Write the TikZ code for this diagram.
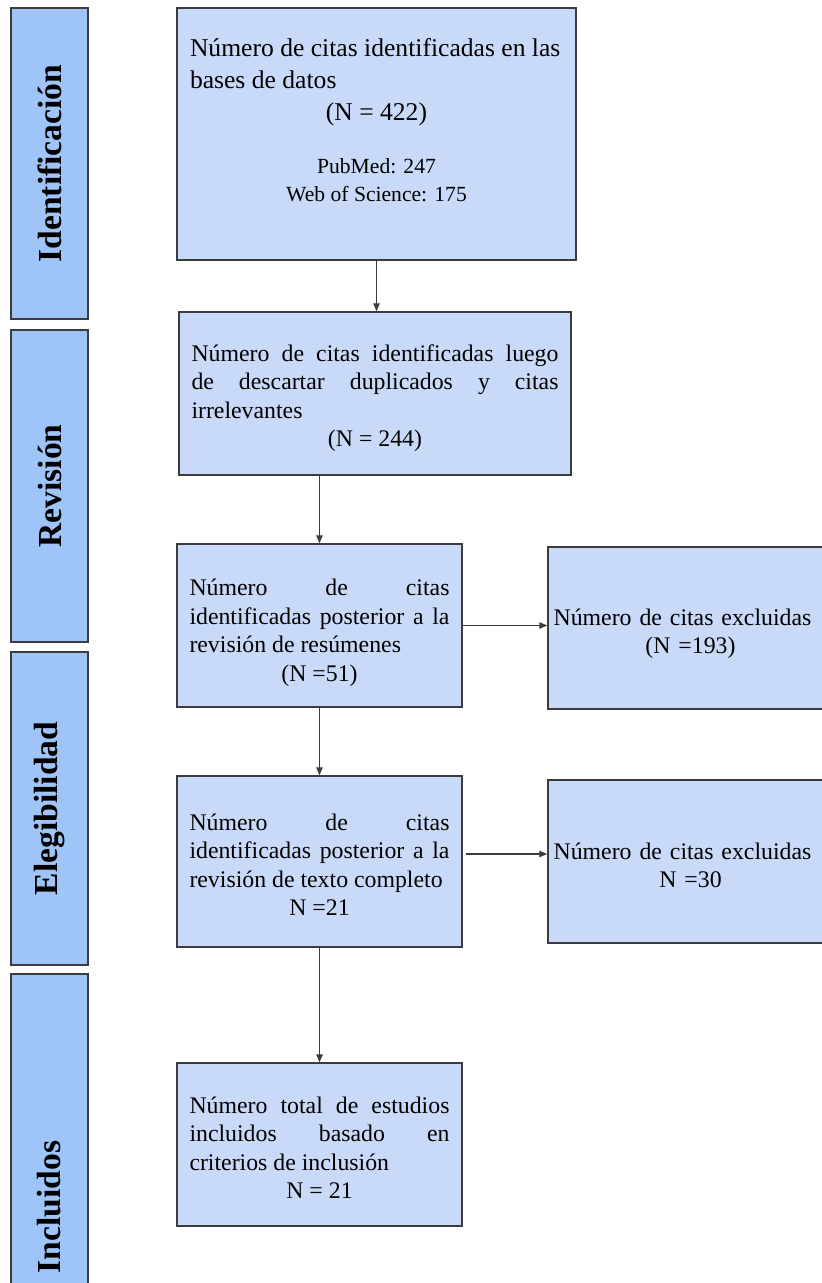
\documentclass[tikz,border=0pt]{standalone}
\usepackage{fontspec}
\setmainfont{Liberation Serif}
\usetikzlibrary{arrows.meta,positioning,calc}
\definecolor{Frame}{HTML}{3C3C3C}
\definecolor{Phase}{HTML}{9FC5F8}
\definecolor{Cell}{HTML}{C9DAF8}
\tikzset{
  >={Triangle[length=8pt,width=6.5pt]},
  phase/.style={draw=Frame,fill=Phase,line width=1.5pt,rotate=90,minimum height=77pt,inner sep=0pt,font=\fontsize{33.6}{40}\selectfont\bfseries},
  stage/.style={draw=Frame,fill=Cell,line width=1.5pt,inner sep=0pt,minimum width=285pt,minimum height=163pt,text width=260pt,align=justify,font=\fontsize{23.8}{28.5}\selectfont},
  excl/.style={stage,text width=280pt,align=center},
  flow/.style={->,line width=1.2pt,draw=Frame}
}

\begin{document}
\begin{tikzpicture}[x=1pt,y=-1pt]
        \useasboundingbox (0,0) rectangle (822,1283);
        \clip (0,0) rectangle (822,1283);
        % phases
        \node[phase,minimum width=311pt] (phId) at (49.5,163.5) {Identificación};
        \node[phase,minimum width=312pt] (phRev) at (49.5,486) {Revisión};
        \node[phase,minimum width=313pt] (phEle) at (49.5,808.5) {Elegibilidad};
        \node[phase,minimum width=466pt] (phInc) at (49.5,1207) {Incluidos};
        % boxes
        \node[stage,text width=373pt,minimum width=399pt,minimum height=252pt,font=\fontsize{25.6}{32}\selectfont] (ident) at (376.5,134)
          {Número de citas identificadas en las\\bases de datos\par{\centering (N = 422)\par}\vspace{25pt}{\fontsize{21.6}{28}\selectfont\centering PubMed: 247\\Web of Science: 175\rule[-28pt]{0pt}{0pt}\par}};
        \node[stage,text width=367pt,minimum width=392pt] (dedup) at (375,393.5)
          {\rule{0pt}{26.5pt}Número de citas identificadas luego\linebreak de descartar duplicados y citas\linebreak irrelevantes\par{\centering (N = 244)\par}};
        \node[stage] (abstr) at (319.5,625.5)
          {\rule{0pt}{31pt}Número de citas\linebreak identificadas posterior a la\linebreak revisión de resúmenes\par{\centering (N =51)\par}};
        \node[excl,minimum height=162pt] (exabs) at (690.5,628) {\rule{0pt}{28.5pt}Número de citas excluidas\kern16pt\\(N =193)};
        \node[stage,minimum height=171pt] (full) at (319.5,861.5)
          {\rule{0pt}{22.5pt}Número de citas\linebreak identificadas posterior a la\linebreak revisión de texto completo\par{\centering N =21\par}};
        \node[excl] (exfull) at (690.5,861.5) {\rule{0pt}{24.5pt}Número de citas excluidas\kern16pt\\N =30};
        \node[stage] (incl) at (319.5,1144.5)
          {\rule{0pt}{22.5pt}Número total de estudios\linebreak incluidos basado en\linebreak criterios de inclusión\par{\centering N = 21\par}};
        % arrows
        \draw[flow] (ident.south) -- (ident.south |- dedup.north);
        \draw[flow] (abstr.north |- dedup.south) -- (abstr.north);
        \draw[flow] (abstr.east) -- (abstr.east -| exabs.west);
        \draw[flow] (abstr.south) -- (full.north);
        \draw[flow] ([xshift=3pt,yshift=7.5pt]full.east) -- ([yshift=7.5pt]exfull.west);
        \draw[flow] (full.south) -- (incl.north);
\end{tikzpicture}
\end{document}
